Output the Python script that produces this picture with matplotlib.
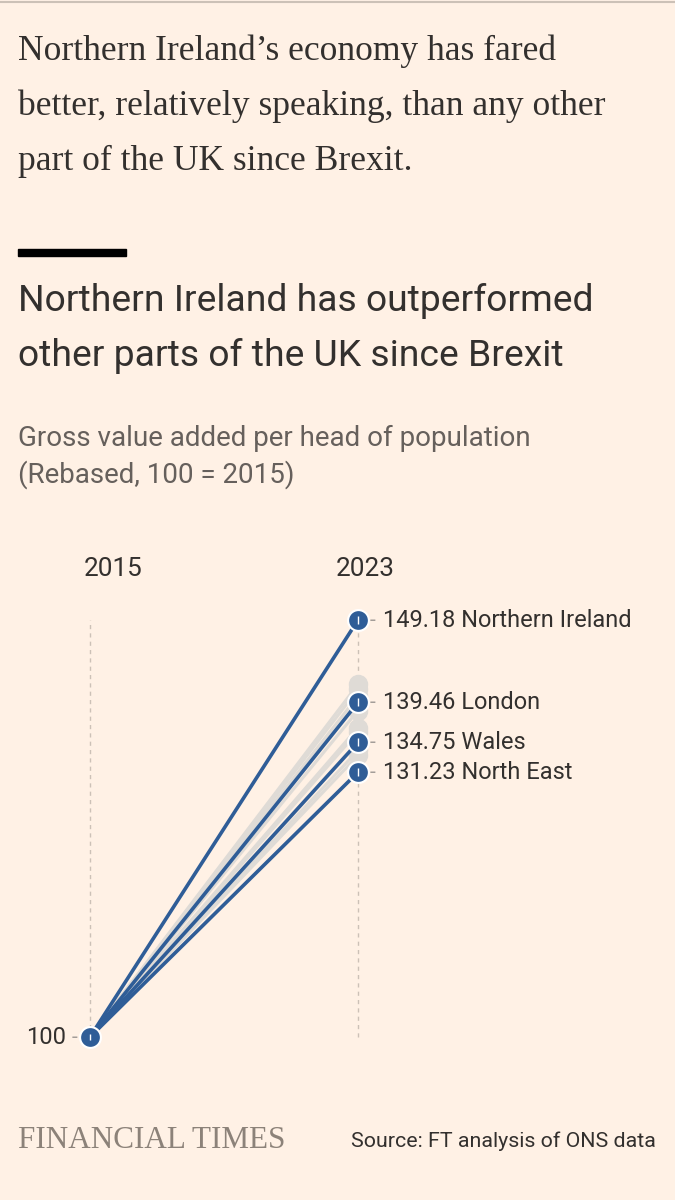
import matplotlib
matplotlib.use("Agg")
import matplotlib.pyplot as plt
from matplotlib.lines import Line2D
from matplotlib.patches import Rectangle

BG = "#fff1e5"
TXT = "#33302e"
SUB = "#66605c"
BLUE = "#2f5d97"
GREY = "#dfdbd6"
GRID = "#ccc1b7"
DASH = "#a39d98"

years = [2015, 2023]
base = 100

# highlighted regions (value in 2023, 2015 = 100)
hl_names = ["Northern Ireland", "London", "Wales", "North East"]
hl_vals = [149.18, 139.46, 134.75, 131.23]

# remaining UK regions shown in grey
grey_vals = [141.6, 141.0, 140.2, 138.5, 136.5, 136.0, 133.8, 133.2]

W, H = 675, 1200
fig = plt.figure(figsize=(W / 100, H / 100), dpi=100)
fig.patch.set_facecolor(BG)


def fx(px):
    return px / W


def fy(py):
    return 1 - py / H


SERIF = "Liberation Serif"
SANS = "Roboto"

# top rule
fig.add_artist(Line2D([0, 1], [fy(1.5), fy(1.5)], color="#ccc1b7", lw=1.5))

# lead-in text
lead = ["Northern Ireland\u2019s economy has fared",
        "better, relatively speaking, than any other",
        "part of the UK since Brexit."]
for i, line in enumerate(lead):
    fig.text(fx(18), fy(51 + i * 55), line, family=SERIF, fontsize=25.6,
             color=TXT, va="center", ha="left")

# black bar
fig.add_artist(Rectangle((fx(18), fy(256)), fx(108), 7 / H, color="black",
                         transform=fig.transFigure))

title = ["Northern Ireland has outperformed",
         "other parts of the UK since Brexit"]
for i, line in enumerate(title):
    fig.text(fx(18), fy(301 + i * 55), line, family=SANS, fontsize=26.8,
             color=TXT, va="center", ha="left")

subtitle = ["Gross value added per head of population",
            "(Rebased, 100 = 2015)"]
for i, line in enumerate(subtitle):
    fig.text(fx(18), fy(438 + i * 37), line, family=SANS, fontsize=20,
             color=SUB, va="center", ha="left")

# chart axes: x 2015->px 90, 2023->px 358 ; y 100->px 1037, top value->px 620
ax = fig.add_axes([fx(90), fy(1037), fx(358 - 90), (1037 - 620) / H])
ax.set_xlim(years[0], years[1])
ax.set_ylim(base, hl_vals[0])
ax.axis("off")

for x in years:
    ax.plot([x, x], [base, hl_vals[0]], color=GRID, lw=1, ls=(0, (3, 3)),
            zorder=0, clip_on=False)

for v in grey_vals:
    ax.plot(years, [base, v], color=GREY, lw=2.2, zorder=1, clip_on=False,
            solid_capstyle="round")
    ax.plot(years[1], v, "o", ms=13, color=GREY, mec=GREY, zorder=1,
            clip_on=False)

for v in hl_vals:
    ax.plot(years, [base, v], color=BLUE, lw=2.6, zorder=3, clip_on=False,
            solid_capstyle="round")
    ax.plot(years[1], v, "o", ms=15, color=BLUE, mec="white", mew=1.5,
            zorder=4, clip_on=False)
    ax.plot(years[1], v, "|", ms=6, color="white", mew=1, zorder=5,
            clip_on=False)

ax.plot(years[0], base, "o", ms=15, color=BLUE, mec="white", mew=1.5,
        zorder=4, clip_on=False)
ax.plot(years[0], base, "|", ms=4, color="white", mew=1, zorder=5,
        clip_on=False)

# labels on the right with small tick dash
for name, v in zip(hl_names, hl_vals):
    ax.annotate(f"{v:.2f} {name}", xy=(years[1], v), xytext=(18, 0),
                textcoords="offset points", va="center", ha="left",
                family=SANS, fontsize=17, color=TXT, annotation_clip=False)
    ax.annotate("-", xy=(years[1], v), xytext=(8.5, 0),
                textcoords="offset points", va="center", ha="left",
                family=SANS, fontsize=15, color=DASH, annotation_clip=False)

ax.annotate("100", xy=(years[0], base), xytext=(-17, 0),
            textcoords="offset points", va="center", ha="right",
            family=SANS, fontsize=17, color=TXT, annotation_clip=False)
ax.annotate("-", xy=(years[0], base), xytext=(-13.5, 0),
            textcoords="offset points", va="center", ha="left",
            family=SANS, fontsize=15, color=DASH, annotation_clip=False)

# year labels
for x, dx in zip(years, [16.5, 5.5]):
    ax.annotate(str(x), xy=(x, hl_vals[0]), xytext=(dx, 36.5),
                textcoords="offset points", va="center", ha="center",
                family=SANS, fontsize=18.8, color=TXT, annotation_clip=False)

# footer
fig.text(fx(18), fy(1140), "FINANCIAL TIMES", family=SERIF, fontsize=22.4,
         color="#8c8279", va="center", ha="left")
fig.text(fx(656), fy(1141), "Source: FT analysis of ONS data", family=SANS,
         fontsize=15.4, color=TXT, va="center", ha="right")

fig.savefig("out.png", dpi=100, facecolor=BG)
